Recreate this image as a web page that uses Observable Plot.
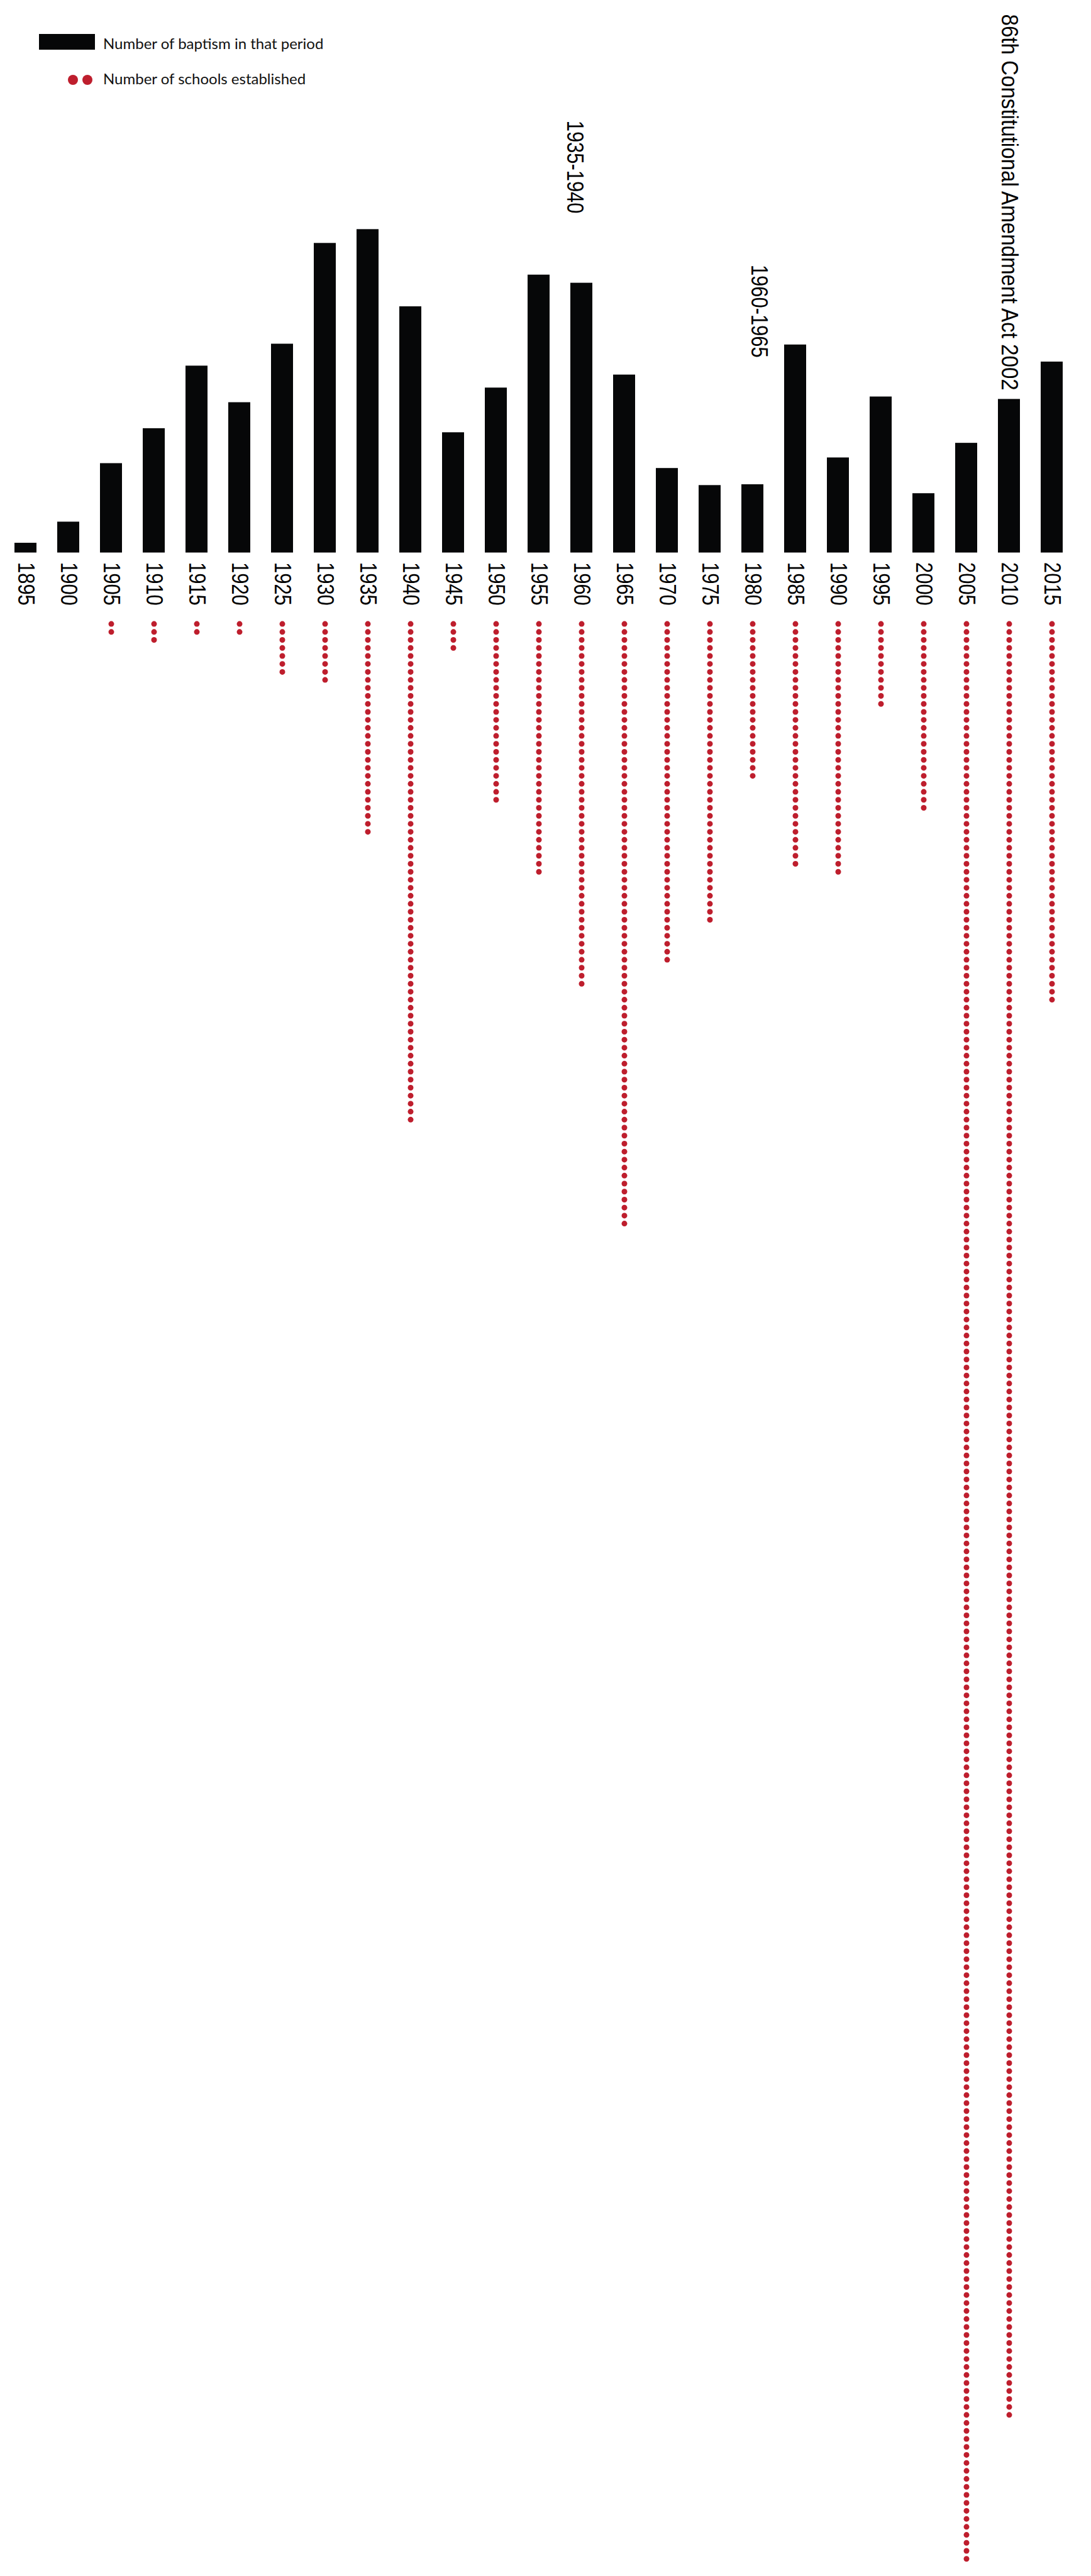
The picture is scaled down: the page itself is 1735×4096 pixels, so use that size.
<!DOCTYPE html>
<html>
<head>
<meta charset="utf-8">
<script src="https://cdn.jsdelivr.net/npm/d3@7"></script>
<script src="https://cdn.jsdelivr.net/npm/@observablehq/plot@0.6"></script>
<style>
  html, body { margin: 0; padding: 0; background: #ffffff; }
  #wrap { position: relative; width: 1735px; }
  #legend { position: absolute; left: 0; top: 0; width: 600px; height: 150px;
            font-family: Lato, "Noto Sans", sans-serif; font-size: 24px; color: #111; z-index: 2; }
  #legend .sw { position: absolute; background: #060708; }
  #legend .dt { position: absolute; border-radius: 50%; background: #be1e2d; }
  #legend .tx { position: absolute; white-space: nowrap; line-height: 1.2; }
  #chart svg { display: block; }
</style>
</head>
<body>
<div id="wrap">
  <div id="legend">
    <div class="sw" style="left:62px; top:53.6px; width:89px; height:25.2px;"></div>
    <div class="tx" style="left:164px; top:55px;">Number of baptism in that period</div>
    <div class="dt" style="left:107.6px; top:119.3px; width:16px; height:16px;"></div>
    <div class="dt" style="left:130.9px; top:119.3px; width:16px; height:16px;"></div>
    <div class="tx" style="left:164px; top:110.6px;">Number of schools established</div>
  </div>
  <div id="chart"></div>
</div>
<script>
// ---- data ----
const years = ["1895","1900","1905","1910","1915","1920","1925","1930","1935","1940","1945","1950",
               "1955","1960","1965","1970","1975","1980","1985","1990","1995","2000","2005","2010","2015"];
// number of baptisms in each period (relative units)
const baptisms = [12, 38, 110, 153, 230, 185, 257, 381, 398, 303, 148, 203,
                  342, 332, 219, 104, 83, 84, 256, 117, 192, 73, 135, 189, 235];
// number of schools established in each period (one dot per school)
const schools = [0, 0, 2, 3, 2, 2, 7, 8, 27, 63, 4, 23,
                 32, 46, 76, 43, 38, 20, 31, 32, 11, 24, 243, 225, 48];
// annotations: period column, text, level (in bar units)
const annoYears  = ["1960", "1980", "2010"];
const annoLabels = ["1935-1940", "1960-1965", "86th Constitutional Amendment Act 2002"];
const annoLevels = [532, 354.6, 663];

// ---- layout ----
const s = 0.646;
const W = 1735, H = 4096;
const RED = "#be1e2d", BLACK = "#060708";
const FONT = "'Liberation Sans', Arial, sans-serif";
const hTop = 982;
const baseline = 1360 * s;
const unit = 2 * s;
const xScale = {type: "band", domain: years, range: [3.4, 1709.9], paddingInner: 0.49, paddingOuter: 0.245, axis: null};

const bars = years.map((y, k) => ({year: y, value: baptisms[k]}));
const annos = annoYears.map((y, k) => ({year: y, label: annoLabels[k], level: annoLevels[k]}));
const annoDx = [-11.4, 9.5, 0];

const plotTop = Plot.plot({
  width: W, height: hTop,
  marginTop: 0, marginBottom: 0, marginLeft: 0, marginRight: 0,
  style: {background: "#ffffff", overflow: "visible"},
  x: xScale,
  y: {domain: [0, 400], range: [baseline, baseline - 400 * unit], axis: null},
  marks: [
    Plot.barY(bars, {x: "year", y: "value", fill: BLACK}),
    Plot.text(years, {x: d => d, y: () => 0, text: d => d, rotate: 90, textAnchor: "start",
                      dy: 15, fontSize: 37, fontFamily: FONT, fill: "#000"}),
    ...annos.map((a, k) => Plot.text([a], {x: "year", y: "level", text: "label", rotate: 90,
                      textAnchor: "start", dx: annoDx[k], fontSize: 37, fontFamily: FONT, fill: "#000"}))
  ]
});

// condense the rotated labels along their reading direction (narrow type as in the original)
d3.select(plotTop).selectAll("text").each(function() {
  const t = this.getAttribute("transform");
  if (!t) return;
  const k = this.textContent.length > 12 ? 0.895 : 0.835;
  this.setAttribute("transform", t + ` scale(${k},1)`);
});

const dotRows = years.flatMap((y, k) => d3.range(schools[k]).map(i => ({year: y, i})));
const maxI = d3.max(schools) - 1;
const step = 19.68 * s;
const plotBottom = Plot.plot({
  width: W, height: H - hTop,
  marginTop: 0, marginBottom: 0, marginLeft: 0, marginRight: 0,
  style: {background: "#ffffff", overflow: "visible"},
  x: xScale,
  y: {domain: [0, maxI], range: [9.6, 9.6 + maxI * step], axis: null},
  marks: [
    Plot.dot(dotRows, {x: "year", y: "i", r: 4.5, fill: RED, stroke: null})
  ]
});

document.getElementById("chart").append(plotTop, plotBottom);
</script>
</body>
</html>
